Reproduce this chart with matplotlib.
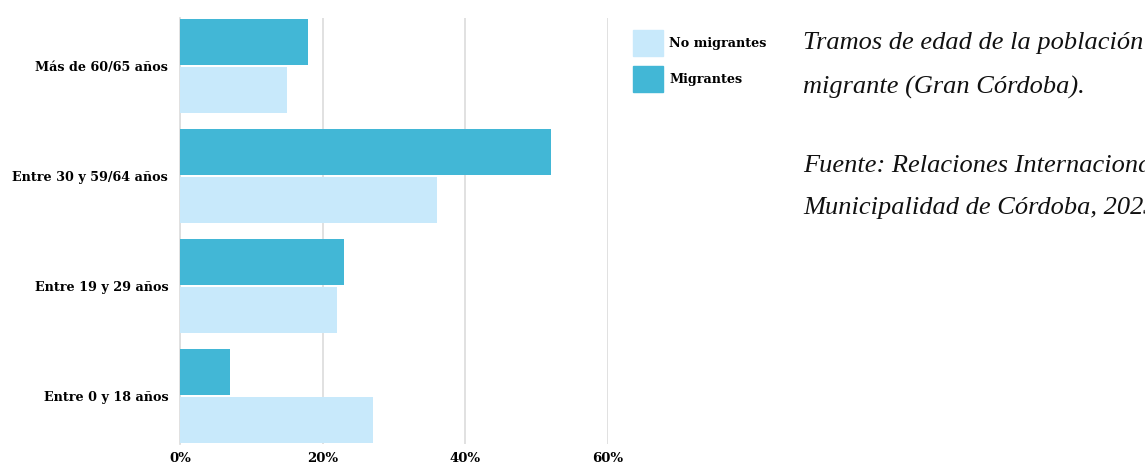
import numpy as np
import matplotlib
matplotlib.use("Agg")
import matplotlib.pyplot as plt
from matplotlib.patches import Rectangle

# data (percent of each population)
categorias = ['Más de 60/65 años', 'Entre 30 y 59/64 años', 'Entre 19 y 29 años', 'Entre 0 y 18 años']
migrantes = [18, 52, 23, 7]
no_migrantes = [15, 36, 22, 27]
ticks = [0, 20, 40, 60]
tick_labels = ['0%', '20%', '40%', '60%']

c_mig = '#42b7d6'
c_nomig = '#c8e9fb'
grid_c = '#dedede'

fig = plt.figure(figsize=(11.45, 4.69), dpi=100)
ax = fig.add_axes([180/1145, 1-444/469, 428/1145, 426/469])

y = np.arange(len(categorias))
h = 48/110
ax.barh(y - h/2, migrantes, height=h*0.96, color=c_mig, zorder=3)
ax.barh(y + h/2, no_migrantes, height=h*0.96, color=c_nomig, zorder=3)

ax.set_ylim(3 + h, -h)
ax.set_xlim(0, 60)
ax.set_xticks(ticks)
ax.set_xticklabels(tick_labels, family='DejaVu Serif', fontweight='bold', fontsize=9.5)
ax.set_yticks(y)
ax.set_yticklabels(categorias, family='DejaVu Serif', fontweight='bold', fontsize=9.2)
ax.tick_params(axis='x', length=0, pad=6)
ax.tick_params(axis='y', length=0, pad=8.5)
ax.xaxis.grid(True, color=grid_c, linewidth=1.3, zorder=0)
for s in ['top', 'right', 'bottom']:
    ax.spines[s].set_visible(False)
ax.spines['left'].set_color(grid_c)
ax.spines['left'].set_linewidth(1.3)

# legend
fig.patches.append(Rectangle((633/1145, 1-56/469), 30/1145, 26/469, transform=fig.transFigure,
                             color=c_nomig, figure=fig))
fig.patches.append(Rectangle((633/1145, 1-92/469), 30/1145, 26/469, transform=fig.transFigure,
                             color=c_mig, figure=fig))
fig.text(669/1145, 1-43/469, 'No migrantes', family='DejaVu Serif', fontweight='bold',
         fontsize=9.2, va='center')
fig.text(669/1145, 1-79/469, 'Migrantes', family='DejaVu Serif', fontweight='bold',
         fontsize=9.2, va='center')

# caption (cut off at the right edge, as in the original image)
cap = dict(family='Liberation Serif', style='italic', fontsize=19, va='center', color='#111111')
fig.text(803/1145, 1-43/469, 'Tramos de edad de la población', **cap)
fig.text(803/1145, 1-87/469, 'migrante (Gran Córdoba).', **cap)
fig.text(803/1145, 1-165/469, 'Fuente: Relaciones Internacionales,', **cap)
fig.text(803/1145, 1-208/469, 'Municipalidad de Córdoba, 2023.', **cap)

fig.savefig('out.png', dpi=100)
